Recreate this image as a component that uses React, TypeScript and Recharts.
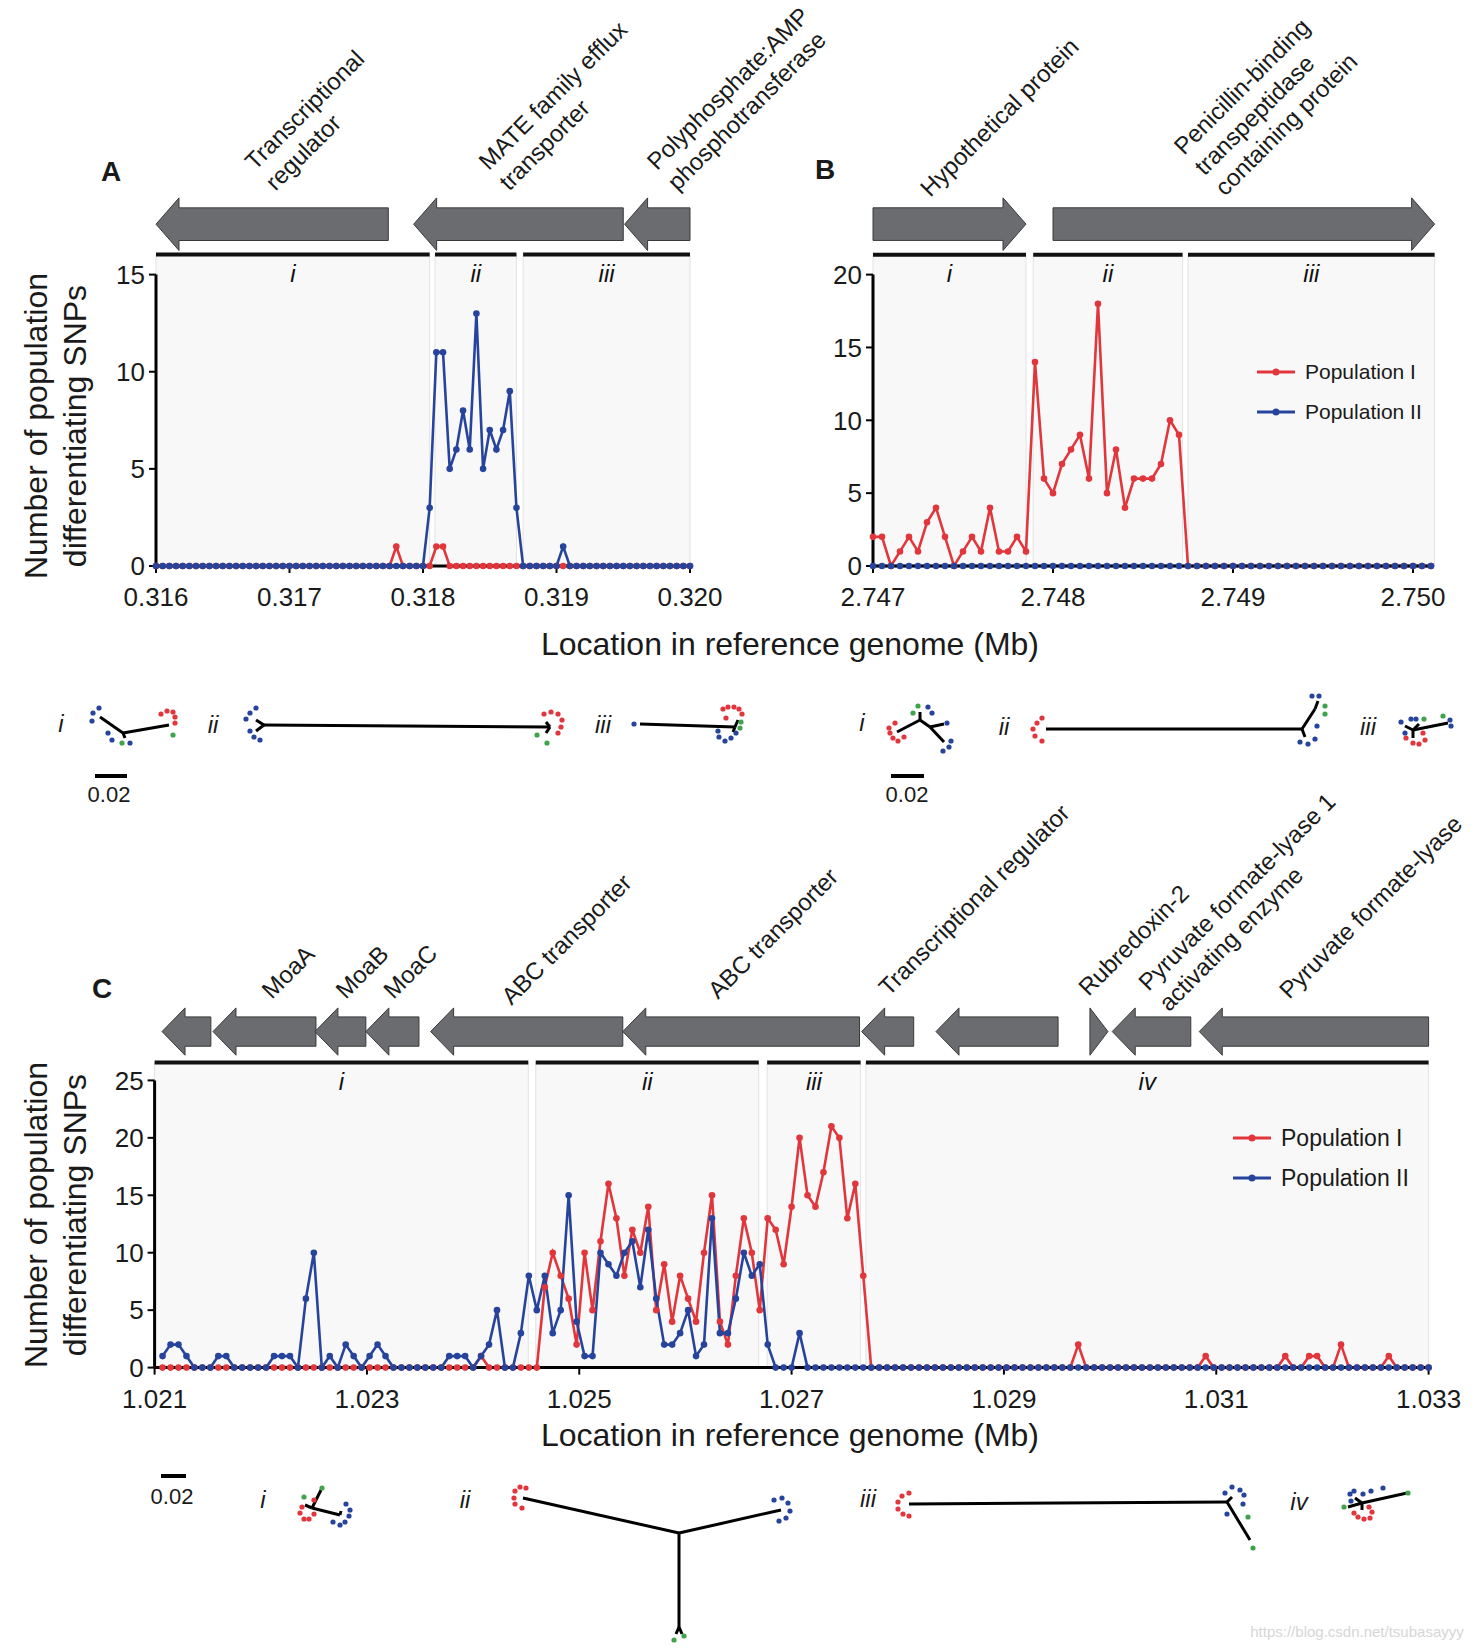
import React from "react";
import {
  LineChart,
  Line,
  XAxis,
  YAxis,
  ReferenceArea,
  ReferenceLine,
  ReferenceDot,
  Legend,
  ScatterChart,
  Scatter,
} from "recharts";

const FONT = '"Liberation Sans", Arial, Helvetica, sans-serif';
const RED = "#e0363c";
const BLUE = "#27449c";
const GREEN = "#3ea34a";
const GENE_FILL = "#6b6c70";

// ---------- panel A : 0.316 - 0.320 Mb, 50 bp steps ----------
const startA = 0.316;
const stepA = 0.00005;
const popIA = [
  0, 0, 0, 0, 0, 0, 0, 0, 0, 0,
  0, 0, 0, 0, 0, 0, 0, 0, 0, 0,
  0, 0, 0, 0, 0, 0, 0, 0, 0, 0,
  0, 0, 0, 0, 0, 0, 1, 0, 0, 0,
  0, 0, 1, 1, 0, 0, 0, 0, 0, 0,
  0, 0, 0, 0, 0, 0, 0, 0, 0, 0,
  0, 0, 0, 0, 0, 0, 0, 0, 0, 0,
  0, 0, 0, 0, 0, 0, 0, 0, 0, 0,
  0,
];
const popIIA = [
  0, 0, 0, 0, 0, 0, 0, 0, 0, 0,
  0, 0, 0, 0, 0, 0, 0, 0, 0, 0,
  0, 0, 0, 0, 0, 0, 0, 0, 0, 0,
  0, 0, 0, 0, 0, 0, 0, 0, 0, 0,
  0, 3, 11, 11, 5, 6, 8, 6, 13, 5,
  7, 6, 7, 9, 3, 0, 0, 0, 0, 0,
  0, 1, 0, 0, 0, 0, 0, 0, 0, 0,
  0, 0, 0, 0, 0, 0, 0, 0, 0, 0,
  0,
];
const ticksXA = [0.316, 0.317, 0.318, 0.319, 0.32];
const ticksYA = [0, 5, 10, 15];

// ---------- panel B : 2.747 - 2.7501 Mb ----------
const startB = 2.747;
const stepB = 0.00005;
const popIB = [
  2, 2, 0, 1, 2, 1, 3, 4, 2, 0,
  1, 2, 1, 4, 1, 1, 2, 1, 14, 6,
  5, 7, 8, 9, 6, 18, 5, 8, 4, 6,
  6, 6, 7, 10, 9, 0, 0, 0, 0, 0,
  0, 0, 0, 0, 0, 0, 0, 0, 0, 0,
  0, 0, 0, 0, 0, 0, 0, 0, 0, 0,
  0, 0, 0,
];
const popIIB = [
  0, 0, 0, 0, 0, 0, 0, 0, 0, 0,
  0, 0, 0, 0, 0, 0, 0, 0, 0, 0,
  0, 0, 0, 0, 0, 0, 0, 0, 0, 0,
  0, 0, 0, 0, 0, 0, 0, 0, 0, 0,
  0, 0, 0, 0, 0, 0, 0, 0, 0, 0,
  0, 0, 0, 0, 0, 0, 0, 0, 0, 0,
  0, 0, 0,
];
const ticksXB = [2.747, 2.748, 2.749, 2.75];
const ticksYB = [0, 5, 10, 15, 20];

// ---------- panel C : 1.021 - 1.033 Mb, 75 bp steps ----------
const startC = 1.021;
const stepC = 0.000075;
const popIC = [
  0, 0, 0, 0, 0, 0, 0, 0, 0, 0,
  0, 0, 0, 0, 0, 0, 0, 0, 0, 0,
  0, 0, 0, 0, 0, 0, 0, 0, 0, 0,
  0, 0, 0, 0, 0, 0, 0, 0, 0, 0,
  1, 0, 0, 0, 0, 0, 0, 0, 7, 10,
  8, 6, 2, 10, 5, 11, 16, 13, 8, 12,
  10, 14, 5, 9, 4, 8, 6, 4, 10, 15,
  4, 2, 8, 13, 10, 5, 13, 12, 9, 14,
  20, 15, 14, 17, 21, 20, 13, 16, 8, 0,
  0, 0, 0, 0, 0, 0, 0, 0, 0, 0,
  0, 0, 0, 0, 0, 0, 0, 0, 0, 0,
  0, 0, 0, 0, 0, 2, 0, 0, 0, 0,
  0, 0, 0, 0, 0, 0, 0, 0, 0, 0,
  0, 1, 0, 0, 0, 0, 0, 0, 0, 0,
  0, 1, 0, 0, 1, 1, 0, 0, 2, 0,
  0, 0, 0, 0, 1, 0, 0, 0, 0, 0,
];
const popIIC = [
  1, 2, 2, 1, 0, 0, 0, 1, 1, 0,
  0, 0, 0, 0, 1, 1, 1, 0, 6, 10,
  0, 1, 0, 2, 1, 0, 1, 2, 1, 0,
  0, 0, 0, 0, 0, 0, 1, 1, 1, 0,
  1, 2, 5, 0, 0, 3, 8, 5, 8, 3,
  5, 15, 4, 1, 1, 10, 9, 8, 10, 11,
  7, 12, 6, 2, 2, 3, 5, 1, 2, 13,
  3, 3, 6, 10, 8, 9, 2, 0, 0, 0,
  3, 0, 0, 0, 0, 0, 0, 0, 0, 0,
  0, 0, 0, 0, 0, 0, 0, 0, 0, 0,
  0, 0, 0, 0, 0, 0, 0, 0, 0, 0,
  0, 0, 0, 0, 0, 0, 0, 0, 0, 0,
  0, 0, 0, 0, 0, 0, 0, 0, 0, 0,
  0, 0, 0, 0, 0, 0, 0, 0, 0, 0,
  0, 0, 0, 0, 0, 0, 0, 0, 0, 0,
  0, 0, 0, 0, 0, 0, 0, 0, 0, 0,
];
const ticksXC = [1.021, 1.023, 1.025, 1.027, 1.029, 1.031, 1.033];
const ticksYC = [0, 5, 10, 15, 20, 25];

// ---------- genes and regions ----------
type Gene = { start: number; end: number; dir: "L" | "R" };
type GeneLabel = { x: number; y: number; lines: string[] };
type Region = { name: string; from: number; to: number };

const genesA: Gene[] = [
  { start: 0.316, end: 0.31774, dir: "L" },
  { start: 0.31793, end: 0.3195, dir: "L" },
  { start: 0.31951, end: 0.32, dir: "L" },
];
const genesB: Gene[] = [
  { start: 2.747, end: 2.74785, dir: "R" },
  { start: 2.748, end: 2.75012, dir: "R" },
];
const genesC: Gene[] = [
  { start: 1.02107, end: 1.02153, dir: "L" },
  { start: 1.02155, end: 1.02252, dir: "L" },
  { start: 1.02251, end: 1.02299, dir: "L" },
  { start: 1.02299, end: 1.02349, dir: "L" },
  { start: 1.0236, end: 1.02541, dir: "L" },
  { start: 1.02541, end: 1.02764, dir: "L" },
  { start: 1.02766, end: 1.02815, dir: "L" },
  { start: 1.02836, end: 1.02951, dir: "L" },
  { start: 1.02981, end: 1.02998, dir: "R" },
  { start: 1.03002, end: 1.03076, dir: "L" },
  { start: 1.03084, end: 1.033, dir: "L" },
];

const labelsA: GeneLabel[] = [
  { x: 0.31669, y: 20.48, lines: ["Transcriptional", "regulator"] },
  { x: 0.31844, y: 20.48, lines: ["MATE family efflux", "transporter"] },
  { x: 0.3197, y: 20.48, lines: ["Polyphosphate:AMP", "phosphotransferase"] },
];
const labelsB: GeneLabel[] = [
  { x: 2.747279, y: 25.46, lines: ["Hypothetical protein"] },
  { x: 2.748689, y: 28.35, lines: ["Penicillin-binding", "transpeptidase", "containing protein"] },
];
const labelsC: GeneLabel[] = [
  { x: 1.022038, y: 32.26, lines: ["MoaA"] },
  { x: 1.022734, y: 32.26, lines: ["MoaB"] },
  { x: 1.023185, y: 32.26, lines: ["MoaC"] },
  { x: 1.024295, y: 31.74, lines: ["ABC transporter"] },
  { x: 1.026241, y: 32.26, lines: ["ABC transporter"] },
  { x: 1.02785, y: 32.52, lines: ["Transcriptional regulator"] },
  { x: 1.029731, y: 32.52, lines: ["Rubredoxin-2"] },
  { x: 1.030295, y: 32.95, lines: ["Pyruvate formate-lyase 1", "activating enzyme"] },
  { x: 1.031621, y: 32.26, lines: ["Pyruvate formate-lyase"] },
];

const regionsA: Region[] = [
  { name: "i", from: 0.316, to: 0.31805 },
  { name: "ii", from: 0.31809, to: 0.3187 },
  { name: "iii", from: 0.31875, to: 0.32 },
];
const regionsB: Region[] = [
  { name: "i", from: 2.747, to: 2.74785 },
  { name: "ii", from: 2.74789, to: 2.74872 },
  { name: "iii", from: 2.74875, to: 2.75012 },
];
const regionsC: Region[] = [
  { name: "i", from: 1.021, to: 1.02452 },
  { name: "ii", from: 1.02459, to: 1.02669 },
  { name: "iii", from: 1.02677, to: 1.02765 },
  { name: "iv", from: 1.0277, to: 1.033 },
];

// ---------- trees (page coordinates) ----------
const treeRed = [
  [161, 714], [167, 711], [173, 712], [175, 717], [175, 723],
  [544, 714], [551, 712], [558, 714], [562, 720], [561, 727], [558, 733],
  [723, 709], [728, 707], [734, 707], [739, 709], [742, 714], [726, 718],
  [895, 723], [889, 728], [890, 733], [893, 738], [898, 741], [904, 737],
  [1042, 718], [1037, 723], [1033, 729], [1035, 736], [1042, 741],
  [1423, 733], [1406, 738], [1413, 743], [1419, 744], [1425, 740],
  [302, 1507], [300, 1513], [304, 1519], [309, 1519], [314, 1514], [314, 1500],
  [520, 1487], [526, 1488], [515, 1491], [514, 1498], [515, 1504], [522, 1508],
  [909, 1493], [902, 1496], [898, 1502], [898, 1509], [903, 1514], [909, 1516],
  [1369, 1507], [1372, 1512], [1370, 1518], [1364, 1519], [1358, 1517], [1354, 1513],
].map(([x, y]) => ({ x, y }));
const treeBlue = [
  [99, 708], [93, 713], [92, 721], [108, 733], [112, 740], [130, 743],
  [256, 708], [250, 713], [246, 719], [250, 731], [254, 737], [260, 740],
  [634, 724], [736, 733], [731, 738], [725, 741], [719, 737], [718, 731],
  [928, 707], [932, 713], [947, 723], [951, 741], [949, 747], [943, 751],
  [1312, 696], [1319, 696], [1317, 726], [1315, 739], [1308, 744], [1300, 742],
  [1401, 722], [1411, 719], [1416, 719], [1405, 733], [1450, 720], [1451, 726],
  [346, 1504], [350, 1510], [349, 1516], [345, 1522], [340, 1525], [333, 1522],
  [774, 1500], [782, 1498], [788, 1503], [790, 1511], [786, 1518], [779, 1521],
  [1225, 1493], [1232, 1487], [1240, 1490], [1244, 1495], [1243, 1504], [1227, 1514],
  [1350, 1494], [1354, 1491], [1363, 1494], [1371, 1491], [1383, 1488], [1351, 1501],
].map(([x, y]) => ({ x, y }));
const treeGreen = [
  [122, 743], [173, 735], [537, 735], [547, 743], [741, 722], [740, 728],
  [918, 706], [913, 713], [1325, 706], [1325, 714], [1424, 719], [1443, 716],
  [304, 1497], [322, 1488], [674, 1640], [684, 1636], [1248, 1517], [1253, 1548],
  [1408, 1493], [1344, 1507],
].map(([x, y]) => ({ x, y }));
const treeBranches = [
  [100, 717, 123, 733], [123, 733, 169, 725], [123, 733, 125, 738],
  [264, 725, 550, 727], [256, 720, 264, 725], [256, 731, 264, 725], [550, 727, 546, 733], [550, 727, 546, 722],
  [640, 724, 735, 727], [735, 727, 738, 720], [735, 727, 733, 732],
  [920, 720, 897, 732], [920, 720, 920, 712], [920, 720, 930, 727], [930, 727, 944, 742], [930, 727, 944, 724],
  [1046, 729, 1302, 729], [1302, 729, 1315, 709], [1302, 729, 1305, 737], [1315, 709, 1318, 701],
  [1413, 730, 1448, 723], [1413, 730, 1405, 726], [1413, 730, 1413, 738], [1413, 730, 1419, 724],
  [312, 1508, 321, 1490], [312, 1508, 340, 1515], [312, 1508, 305, 1505], [340, 1515, 341, 1511],
  [679, 1533, 523, 1498], [679, 1533, 781, 1510], [679, 1533, 679, 1627], [679, 1627, 676, 1634], [679, 1627, 682, 1634],
  [909, 1504, 1227, 1502], [1227, 1502, 1250, 1540], [1227, 1502, 1232, 1497],
  [1362, 1503, 1407, 1493], [1362, 1503, 1348, 1507], [1362, 1503, 1362, 1510], [1362, 1503, 1355, 1498],
];
const scaleBars = [
  [95, 776, 127, 776],
  [891, 776, 924, 776],
  [161, 1476, 186, 1476],
];
const treeTags = [
  { t: "i", x: 61, y: 724 }, { t: "ii", x: 213, y: 725 }, { t: "iii", x: 603, y: 725 },
  { t: "i", x: 862, y: 723 }, { t: "ii", x: 1004, y: 727 }, { t: "iii", x: 1368, y: 727 },
  { t: "i", x: 263, y: 1500 }, { t: "ii", x: 465, y: 1500 }, { t: "iii", x: 868, y: 1499 },
  { t: "iv", x: 1299, y: 1502 },
];

const series = [
  { key: "p1", name: "Population I", color: RED },
  { key: "p2", name: "Population II", color: BLUE },
];

function rows(start: number, step: number, p1: number[], p2: number[], offset = 0) {
  return p1.map((v, i) => ({ x: +(start + (i + offset) * step).toFixed(6), p1: v, p2: p2[i] }));
}

function arrowShape(dir: "L" | "R") {
  return (p: any) => {
    const { x, y, width: w, height: h } = p;
    const head = Math.min(23, w);
    const t = y + h * 0.19;
    const b = y + h * 0.81;
    const m = y + h / 2;
    let pts: number[][];
    if (dir === "L") {
      pts = head >= w
        ? [[x, m], [x + w, y], [x + w, y + h]]
        : [[x, m], [x + head, y], [x + head, t], [x + w, t], [x + w, b], [x + head, b], [x + head, y + h]];
    } else {
      const r = x + w;
      pts = head >= w
        ? [[r, m], [x, y], [x, y + h]]
        : [[r, m], [r - head, y], [r - head, t], [x, t], [x, b], [r - head, b], [r - head, y + h]];
    }
    return <polygon points={pts.map((q) => q.join(",")).join(" ")} fill={GENE_FILL} stroke="#3a3a3a" strokeWidth={1} />;
  };
}

function geneText(lines: string[]) {
  return (p: any) => (
    <text transform={`translate(${p.cx + 7},${p.cy + 3}) rotate(-45)`} fontSize={24} fill="#1a1a1a" fontFamily={FONT}>
      {lines.map((s, i) => (
        <tspan key={i} x={0} dy={i === 0 ? 0 : 29}>{s}</tspan>
      ))}
    </text>
  );
}

function LegendBox({ fontSize, gap }: { fontSize: number; gap: number }) {
  return (
    <div style={{ fontFamily: FONT, fontSize, color: "#1a1a1a" }}>
      {series.map((s) => (
        <div key={s.key} style={{ display: "flex", alignItems: "center", height: gap }}>
          <svg width={38} height={10}>
            <line x1={0} y1={5} x2={38} y2={5} stroke={s.color} strokeWidth={3} />
            <circle cx={19} cy={5} r={3.5} fill={s.color} />
          </svg>
          <span style={{ marginLeft: 10 }}>{s.name}</span>
        </div>
      ))}
    </div>
  );
}

interface PanelProps {
  width: number;
  height: number;
  margin: { top: number; right: number; bottom: number; left: number };
  data: { x: number; p1: number; p2: number }[];
  xDomain: [number, number];
  xTicks: number[];
  yDomain: [number, number];
  yTicks: number[];
  regions: Region[];
  bar: number;
  genes: Gene[];
  geneY: [number, number];
  labels: GeneLabel[];
  legend?: { left: number; top: number; fontSize: number; gap: number };
}

function GenomePanel(props: PanelProps) {
  const { width, height, margin, data, xDomain, xTicks, yDomain, yTicks, regions, bar, genes, geneY, labels, legend } = props;
  const tick = { fontSize: 26, fill: "#1a1a1a", fontFamily: FONT };
  return (
    <LineChart width={width} height={height} data={data} margin={margin}>
      {regions.map((r) => (
        <ReferenceArea
          key={"p" + r.name}
          x1={r.from}
          x2={r.to}
          y1={0}
          y2={bar}
          ifOverflow="visible"
          fill="#f8f8f8"
          fillOpacity={1}
          stroke="#e2e2e2"
          strokeWidth={1}
          label={{ value: r.name, position: "insideTop", offset: 10, fontSize: 24, fontStyle: "italic", fill: "#111", fontFamily: FONT }}
        />
      ))}
      {regions.map((r) => (
        <ReferenceLine
          key={"b" + r.name}
          segment={[{ x: r.from, y: bar }, { x: r.to, y: bar }]}
          stroke="#111"
          strokeWidth={4}
          ifOverflow="visible"
        />
      ))}
      {genes.map((g, i) => (
        <ReferenceArea key={"g" + i} x1={g.start} x2={g.end} y1={geneY[0]} y2={geneY[1]} ifOverflow="visible" shape={arrowShape(g.dir)} />
      ))}
      {labels.map((l, i) => (
        <ReferenceDot key={"l" + i} x={l.x} y={l.y} r={0} ifOverflow="visible" shape={geneText(l.lines)} />
      ))}
      <XAxis
        type="number"
        dataKey="x"
        domain={xDomain}
        ticks={xTicks}
        tickFormatter={(v: number) => v.toFixed(3)}
        height={40}
        tick={tick}
        tickSize={7}
        tickMargin={15}
        axisLine={{ stroke: "#000", strokeWidth: 3 }}
        tickLine={{ stroke: "#000", strokeWidth: 2 }}
      />
      <YAxis
        type="number"
        domain={yDomain}
        ticks={yTicks}
        width={60}
        tick={tick}
        tickSize={7}
        tickMargin={4}
        axisLine={{ stroke: "#000", strokeWidth: 3 }}
        tickLine={{ stroke: "#000", strokeWidth: 2 }}
      />
      {series.map((s) => (
        <Line
          key={s.key}
          dataKey={s.key}
          name={s.name}
          stroke={s.color}
          strokeWidth={2.6}
          dot={{ r: 3.3, fill: s.color, stroke: s.color, strokeWidth: 0 }}
          activeDot={false}
          isAnimationActive={false}
        />
      ))}
      {legend && (
        <Legend
          layout="vertical"
          align="center"
          verticalAlign="middle"
          wrapperStyle={{ left: legend.left, top: legend.top, width: "auto" }}
          content={() => <LegendBox fontSize={legend.fontSize} gap={legend.gap} />}
        />
      )}
    </LineChart>
  );
}

function Txt({ x, y, size, children, style }: { x: number; y: number; size: number; children: React.ReactNode; style?: React.CSSProperties }) {
  return (
    <div
      style={{
        position: "absolute",
        left: x,
        top: y,
        transform: "translate(-50%, -50%)",
        fontSize: size,
        whiteSpace: "nowrap",
        lineHeight: 1,
        color: "#1a1a1a",
        ...style,
      }}
    >
      {children}
    </div>
  );
}

function YTitle({ cy }: { cy: number }) {
  return (
    <div
      style={{
        position: "absolute",
        left: 56 - 200,
        top: cy - 39,
        width: 400,
        height: 78,
        transform: "rotate(-90deg)",
        textAlign: "center",
        fontSize: 32,
        lineHeight: "39px",
        color: "#1a1a1a",
      }}
    >
      Number of population
      <br />
      differentiating SNPs
    </div>
  );
}

const dot = (color: string) => (p: any) => <circle cx={p.cx} cy={p.cy} r={2.6} fill={color} />;

export default function App() {
  const dataA = rows(startA, stepA, popIA, popIIA);
  const dataB = rows(startB, stepB, popIB, popIIB);
  const dataC = rows(startC, stepC, popIC, popIIC, 1);
  return (
    <div style={{ position: "absolute", left: 0, top: 0, width: 1476, height: 1650, background: "#fff", fontFamily: FONT, overflow: "hidden" }}>
      <style>{".recharts-surface{overflow:visible}"}</style>

      <div style={{ position: "absolute", left: 0, top: 0 }}>
        <ScatterChart width={1476} height={1650} margin={{ top: 0, right: 0, bottom: 0, left: 0 }}>
          <XAxis type="number" dataKey="x" domain={[0, 1476]} hide />
          <YAxis type="number" dataKey="y" domain={[0, 1650]} reversed hide />
          {treeBranches.map((b, i) => (
            <ReferenceLine key={"t" + i} segment={[{ x: b[0], y: b[1] }, { x: b[2], y: b[3] }]} stroke="#000" strokeWidth={3} ifOverflow="visible" />
          ))}
          {scaleBars.map((b, i) => (
            <ReferenceLine key={"s" + i} segment={[{ x: b[0], y: b[1] }, { x: b[2], y: b[3] }]} stroke="#000" strokeWidth={4} ifOverflow="visible" />
          ))}
          <Scatter data={treeRed} shape={dot(RED)} isAnimationActive={false} />
          <Scatter data={treeBlue} shape={dot(BLUE)} isAnimationActive={false} />
          <Scatter data={treeGreen} shape={dot(GREEN)} isAnimationActive={false} />
        </ScatterChart>
      </div>

      <div style={{ position: "absolute", left: 0, top: 0 }}>
        <GenomePanel
          width={720}
          height={660}
          margin={{ top: 274.6, right: 30, bottom: 54, left: 96 }}
          data={dataA}
          xDomain={[0.316, 0.32]}
          xTicks={ticksXA}
          yDomain={[0, 15]}
          yTicks={ticksYA}
          regions={regionsA}
          bar={16.03}
          genes={genesA}
          geneY={[16.24, 18.95]}
          labels={labelsA}
        />
      </div>

      <div style={{ position: "absolute", left: 720, top: 0 }}>
        <GenomePanel
          width={756}
          height={660}
          margin={{ top: 274.6, right: 45, bottom: 54, left: 93 }}
          data={dataB}
          xDomain={[2.747, 2.7501]}
          xTicks={ticksXB}
          yDomain={[0, 20]}
          yTicks={ticksYB}
          regions={regionsB}
          bar={21.37}
          genes={genesB}
          geneY={[21.66, 25.27]}
          labels={labelsB}
          legend={{ left: 537, top: 352, fontSize: 21, gap: 40 }}
        />
      </div>

      <div style={{ position: "absolute", left: 0, top: 780 }}>
        <GenomePanel
          width={1476}
          height={700}
          margin={{ top: 300.4, right: 47.4, bottom: 72.4, left: 94.6 }}
          data={dataC}
          xDomain={[1.021, 1.033]}
          xTicks={ticksXC}
          yDomain={[0, 25]}
          yTicks={ticksYC}
          regions={regionsC}
          bar={26.55}
          genes={genesC}
          geneY={[27.19, 31.31]}
          labels={labelsC}
          legend={{ left: 1233, top: 338, fontSize: 23, gap: 40 }}
        />
      </div>

      <Txt x={111} y={172} size={28} style={{ fontWeight: "bold" }}>A</Txt>
      <Txt x={825} y={170} size={28} style={{ fontWeight: "bold" }}>B</Txt>
      <Txt x={102} y={989} size={28} style={{ fontWeight: "bold" }}>C</Txt>

      <YTitle cy={426} />
      <YTitle cy={1215} />
      <Txt x={790} y={644} size={32}>Location in reference genome (Mb)</Txt>
      <Txt x={790} y={1435} size={32}>Location in reference genome (Mb)</Txt>

      {treeTags.map((t, i) => (
        <Txt key={i} x={t.x} y={t.y} size={24} style={{ fontStyle: "italic" }}>{t.t}</Txt>
      ))}
      <Txt x={109} y={795} size={22}>0.02</Txt>
      <Txt x={907} y={795} size={22}>0.02</Txt>
      <Txt x={172} y={1497} size={22}>0.02</Txt>
      <Txt x={1357} y={1631} size={15} style={{ color: "#d6d6d6" }}>https://blog.csdn.net/tsubasayyy</Txt>
    </div>
  );
}
